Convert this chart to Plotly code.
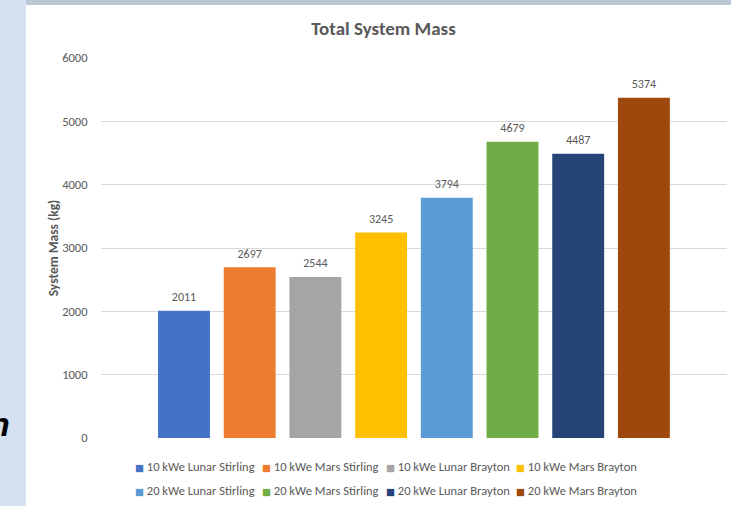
import plotly.graph_objects as go

# ---- data ----
series_names = [
    "10 kWe Lunar Stirling", "10 kWe Mars Stirling", "10 kWe Lunar Brayton", "10 kWe Mars Brayton",
    "20 kWe Lunar Stirling", "20 kWe Mars Stirling", "20 kWe Lunar Brayton", "20 kWe Mars Brayton",
]
masses = [2011, 2697, 2544, 3245, 3794, 4679, 4487, 5374]
colors = ["#4472C4", "#ED7D31", "#A5A5A5", "#FFC000", "#5B9BD5", "#70AD47", "#264478", "#9E480E"]
y_ticks = [0, 1000, 2000, 3000, 4000, 5000, 6000]

W, H = 731, 506
L, R, T, B = 101, 4, 58, 68
PW, PH = W - L - R, H - T - B

def px(x):
    return (x - L) / PW

def py(y):
    return (H - B - y) / PH

FONT = "Carlito, Calibri, Lato, sans-serif"
GRAY = "#595959"

positions = list(range(len(masses)))
slot_px = 65.7
first_center_px = 184

fig = go.Figure()
fig.add_trace(go.Bar(
    x=positions, y=masses, width=0.79, marker=dict(color=colors, line=dict(width=0)),
    showlegend=False, hoverinfo="skip",
))
fig.add_trace(go.Scatter(
    x=positions, y=masses, mode="markers+text", text=[str(m) for m in masses],
    textposition="top center", marker=dict(size=9, opacity=0), cliponaxis=False,
    textfont=dict(size=12, color=GRAY, family=FONT), showlegend=False, hoverinfo="skip",
))

x_lo = -(first_center_px - L) / slot_px
x_hi = (len(masses) - 1) + (L + PW - (first_center_px + slot_px * (len(masses) - 1))) / slot_px

# legend (Excel-style, two rows of four)
legend_cols_px = [134, 261, 385, 515]
legend_rows_px = [466, 490]
annotations = []
for i, (name, c) in enumerate(zip(series_names, colors)):
    r, k = divmod(i, 4)
    annotations.append(dict(
        text=f'<span style="color:{c};font-family:DejaVu Sans;font-size:9.5px">■</span> {name}',
        xref="paper", yref="paper", x=px(legend_cols_px[k]), y=py(legend_rows_px[r]),
        xanchor="left", yanchor="middle", showarrow=False, borderpad=0,
        font=dict(size=12.5, color=GRAY, family=FONT),
    ))
annotations.append(dict(text="<b><i>n</i></b>", xref="paper", yref="paper", x=px(12), y=py(424),
                        xanchor="right", yanchor="middle", showarrow=False,
                        font=dict(size=34, color="black", family="Liberation Sans, Arial, sans-serif")))

fig.update_layout(
    width=W, height=H,
    margin=dict(l=L, r=R, t=T, b=B, autoexpand=False),
    paper_bgcolor="#d5e0f0",
    plot_bgcolor="white",
    font=dict(family=FONT, color=GRAY),
    title=dict(text="<b>Total System Mass</b>", x=383.5 / W, xanchor="center",
               y=1 - 28.5 / H, yanchor="middle", font=dict(size=19, color=GRAY, family=FONT)),
    xaxis=dict(range=[x_lo, x_hi], showticklabels=False, showgrid=False, zeroline=False, showline=False),
    yaxis=dict(range=[0, 6000], tickvals=y_ticks, showgrid=True, gridcolor="#d9d9d9", gridwidth=1,
               zeroline=False, showline=False, ticks="outside", ticklen=10, tickcolor="rgba(0,0,0,0)",
               tickfont=dict(size=12.5, color=GRAY, family=FONT),
               title=dict(text="<b>System Mass (kg)</b>", standoff=0,
                          font=dict(size=13.5, color=GRAY, family=FONT))),
    showlegend=False,
    shapes=[
        dict(type="rect", xref="paper", yref="paper", x0=px(26), x1=px(W + 5), y0=py(5), y1=py(H + 5),
             fillcolor="white", line=dict(width=0), layer="below"),
        dict(type="rect", xref="paper", yref="paper", x0=px(26), x1=px(W + 5), y0=py(-2), y1=py(5),
             fillcolor="#bcc6d4", line=dict(width=0), layer="below"),
    ],
    annotations=annotations,
)

fig.write_html("out.html")
